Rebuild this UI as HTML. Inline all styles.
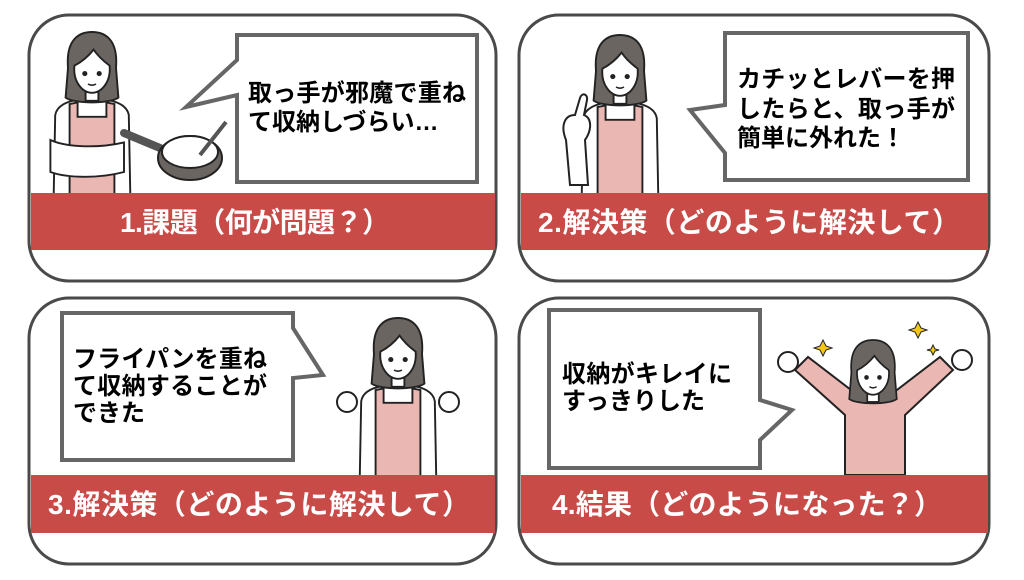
<!DOCTYPE html>
<html><head><meta charset="utf-8"><style>
html,body{margin:0;padding:0;background:#fff;}
svg{display:block;}
text{font-family:"Liberation Sans","Noto Sans CJK JP",sans-serif;font-weight:bold;}
</style></head><body>
<svg width="1024" height="580" viewBox="0 0 1024 580" xmlns="http://www.w3.org/2000/svg">
<defs>
<g id="head">
  <path d="M-30,-5 C-33,-42 -15,-50 0,-50 C15,-50 33,-42 30,-5 L33,32 C22,40 -22,40 -33,32 Z" fill="#6b6562" stroke="#222" stroke-width="2.4"/>
  <rect x="-8" y="18" width="16" height="18" fill="#fff" stroke="#222" stroke-width="2.4"/>
  <path d="M-22,-8 C-24,12 -12,26 0,26 C12,26 24,12 22,-8 C14,-14 6,-22 2,-28 C-6,-18 -14,-12 -22,-8 Z" fill="#fff" stroke="#222" stroke-width="2.4"/>
  <circle cx="-9" cy="2" r="3.2" fill="#222"/><circle cx="9" cy="2" r="3.2" fill="#222"/>
  <path d="M-5,15 Q0,18 5,15" stroke="#222" stroke-width="2" fill="none"/>
</g>
<g id="apronbody">
  <path d="M-48,160 L-46,54 C-44,42 -32,36 -12,34 L12,34 C32,36 44,42 46,54 L48,160 Z" fill="#fff" stroke="#222" stroke-width="2.4"/>
  <path d="M-28,160 L-28,40 L-18,38 L-18,56 L18,56 L18,38 L28,40 L28,160 Z" fill="#ebb7b2" stroke="#222" stroke-width="2.4"/>
</g>
</defs>

<!-- panel frames -->
<rect x="29" y="15" width="467" height="266" rx="40" fill="#fff" stroke="#4a4a4a" stroke-width="3"/>
<rect x="519" y="15" width="470" height="266" rx="40" fill="#fff" stroke="#4a4a4a" stroke-width="3"/>
<rect x="29" y="298" width="467" height="266" rx="40" fill="#fff" stroke="#4a4a4a" stroke-width="3"/>
<rect x="519" y="298" width="470" height="266" rx="40" fill="#fff" stroke="#4a4a4a" stroke-width="3"/>

<!-- panel 1 figure -->
<g transform="translate(92,72) scale(0.8)"><use href="#apronbody"/><use href="#head"/>
  <path d="M-52,85 C-30,95 10,95 40,88 L40,125 C10,133 -30,133 -52,125 Z" fill="#fff" stroke="#222" stroke-width="2.4"/>
</g>
<path d="M124,133 L160,148" stroke="#555" stroke-width="8" stroke-linecap="round"/>
<ellipse cx="190" cy="158" rx="32" ry="22" fill="#6b6562" stroke="#222" stroke-width="2"/>
<ellipse cx="190" cy="152" rx="28" ry="16" fill="#fff" stroke="#222" stroke-width="2"/>
<path d="M200,155 L226,122" stroke="#555" stroke-width="4"/>

<!-- panel 2 figure -->
<g transform="translate(620,75) scale(0.8)"><use href="#apronbody"/><use href="#head"/></g>
<path d="M566,140 C560,125 565,115 575,115 L580,98 C582,92 588,94 587,100 L584,115 C592,118 592,130 585,140 L588,185 L570,185 Z" fill="#fff" stroke="#222" stroke-width="2"/>

<!-- panel 3 figure -->
<g transform="translate(398,358) scale(0.8)"><use href="#apronbody"/><use href="#head"/></g>
<circle cx="347" cy="402" r="10" fill="#fff" stroke="#222" stroke-width="2"/>
<circle cx="449" cy="402" r="10" fill="#fff" stroke="#222" stroke-width="2"/>

<!-- panel 4 figure -->
<path d="M845,475 L845,415 L795,370 L808,357 L855,393 L893,393 L940,357 L953,370 L905,415 L905,475 Z" fill="#ebb7b2" stroke="#222" stroke-width="2"/>
<g transform="translate(873,376) scale(0.72)"><use href="#head"/></g>
<circle cx="788" cy="362" r="10" fill="#fff" stroke="#222" stroke-width="2"/>
<circle cx="962" cy="360" r="10" fill="#fff" stroke="#222" stroke-width="2"/>
<path d="M823,340 L826,346 L832,348 L826,350 L823,356 L820,350 L814,348 L820,346 Z" fill="#f5c518" stroke="#222" stroke-width="1"/>
<path d="M918,322 L921,328 L927,330 L921,332 L918,338 L915,332 L909,330 L915,328 Z" fill="#f5c518" stroke="#222" stroke-width="1"/>
<path d="M933,345 L935,349 L939,350 L935,351 L933,355 L931,351 L927,350 L931,349 Z" fill="#f5c518" stroke="#222" stroke-width="1"/>

<!-- red bars -->
<rect x="31" y="193" width="464" height="57" fill="#c84b48"/>
<rect x="521" y="193" width="467" height="57" fill="#c84b48"/>
<rect x="31" y="475" width="464" height="58" fill="#c84b48"/>
<rect x="521" y="475" width="467" height="58" fill="#c84b48"/>

<text x="120" y="232" font-size="28" fill="#fff" textLength="270">1.課題（何が問題？）</text>
<text x="538" y="232" font-size="28" fill="#fff" textLength="422">2.解決策（どのように解決して）</text>
<text x="48" y="514" font-size="28" fill="#fff" textLength="422">3.解決策（どのように解決して）</text>
<text x="552" y="514" font-size="28" fill="#fff" textLength="390">4.結果（どのようになった？）</text>

<!-- bubbles -->
<path d="M237,35 L477,35 L477,182 L237,182 L237,95 L186,107 L237,60 Z" fill="#fff" stroke="#666" stroke-width="4"/>
<text x="248" y="101" font-size="24" textLength="218">取っ手が邪魔で重ね</text>
<text x="248" y="130" font-size="24">て収納しづらい…</text>

<path d="M725,33 L968,33 L968,180 L725,180 L725,153 L690,110 L725,105 Z" fill="#fff" stroke="#666" stroke-width="4"/>
<text x="737" y="87" font-size="24" textLength="218">カチッとレバーを押</text>
<text x="737" y="117" font-size="24" textLength="218">したらと、取っ手が</text>
<text x="737" y="146" font-size="24">簡単に外れた！</text>

<path d="M62,313 L293,313 L293,328 L323,375 L293,378 L293,460 L62,460 Z" fill="#fff" stroke="#666" stroke-width="4"/>
<text x="73" y="367" font-size="24" textLength="194">フライパンを重ね</text>
<text x="73" y="394" font-size="24" textLength="194">て収納することが</text>
<text x="73" y="421" font-size="24">できた</text>

<path d="M549,310 L760,310 L760,400 L792,410 L760,440 L760,468 L549,468 Z" fill="#fff" stroke="#666" stroke-width="4"/>
<text x="562" y="382" font-size="24" textLength="170">収納がキレイに</text>
<text x="562" y="409" font-size="24">すっきりした</text>
</svg>
</body></html>
